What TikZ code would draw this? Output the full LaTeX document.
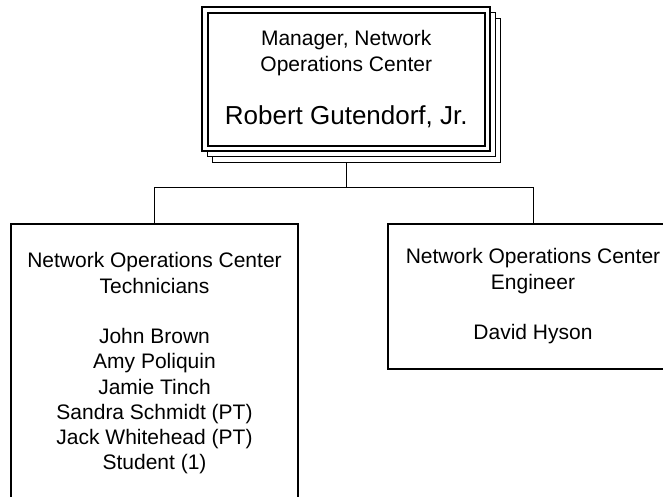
\documentclass[tikz,border=0pt]{standalone}
\usepackage{fontspec}
\setmainfont{Liberation Sans}
\usetikzlibrary{positioning,backgrounds}
\tikzset{%
  mgrbox/.style    = {draw, double, double distance = 3.8pt, fill = white,
    align = center, inner sep = 0pt, outer sep = 0pt,
    minimum width = 282.5pt, minimum height = 138.5pt}, % Manager
  shadowbox/.style = {draw, fill = white}, % Stacked copies
  staffbox/.style  = {draw, fill = white, align = center, anchor = north,
    inner sep = 0pt}, % Staff
  bus/.style       = {draw} % Connector
}
\newcommand{\bigname}{\fontsize{26}{31}\selectfont}

\begin{document}
\begin{tikzpicture}[x=1pt, y=1pt, line width=1.7pt,
    font=\fontsize{21}{25.25}\selectfont]
  \useasboundingbox (0,0) rectangle (663,-497);
  \clip (0,0) rectangle (663,-497);
  \node [mgrbox] (mgr) at (346.25,-79.25)
    {Manager, Network\\ Operations Center\\[28pt] {\bigname Robert Gutendorf, Jr.}};
  \node [staffbox, minimum width = 287pt, minimum height = 279pt] (tech) at (154.5,-223)
    {Network Operations Center\\ Technicians\\[25.25pt] John Brown\\ Amy Poliquin\\
     Jamie Tinch\\ Sandra Schmidt (PT)\\ Jack Whitehead (PT)\\ Student (1)};
  \node [staffbox, minimum width = 290pt, minimum height = 145pt] (eng) at (533,-223)
    {Network Operations Center\\ Engineer\\[25.25pt] David Hyson};
  \begin{scope}[on background layer]
    \draw [bus] (mgr.south) -- ++(0,-38.5) coordinate (split);
    \draw [bus] (split) -| (tech.north);
    \draw [bus] (split) -| (eng.north);
    \draw [shadowbox] ([shift={(6.75,-7.75)}]mgr.north west)
      rectangle ([shift={(12.25,-13.25)}]mgr.south east);
    \draw [shadowbox] ([shift={(2,-2.5)}]mgr.north west)
      rectangle ([shift={(7.5,-8)}]mgr.south east);
  \end{scope}
\end{tikzpicture}
\end{document}
